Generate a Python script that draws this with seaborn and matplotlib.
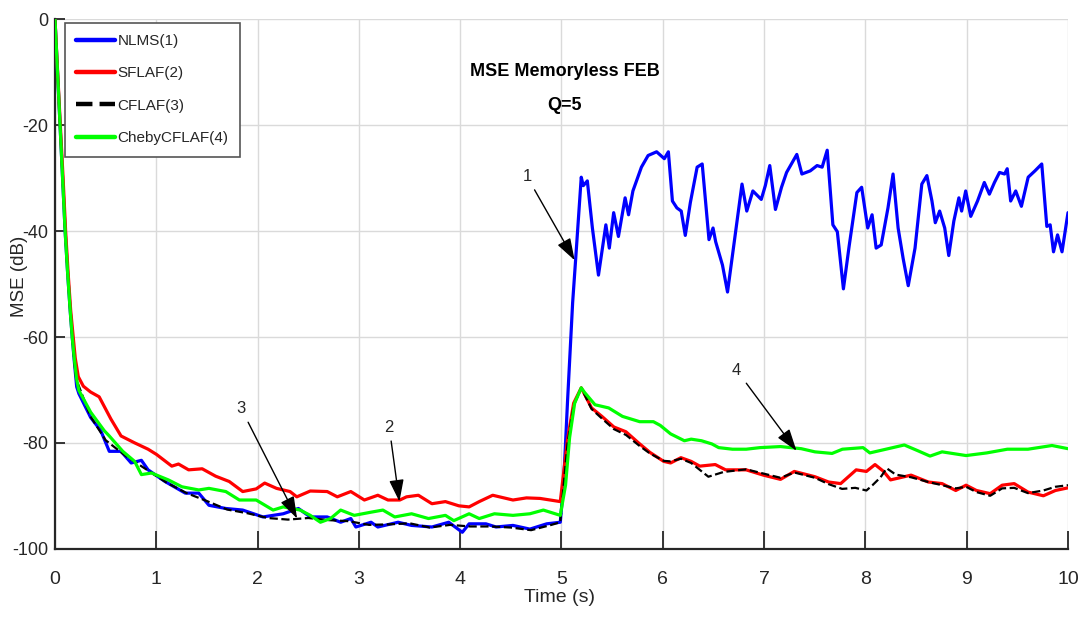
import matplotlib
matplotlib.use('Agg')
import matplotlib.pyplot as plt
import seaborn as sns
import pandas as pd
from matplotlib.lines import Line2D

# ---------------- data ----------------
series_labels = ['NLMS(1)', 'SFLAF(2)', 'CFLAF(3)', 'ChebyCFLAF(4)']
series_colors = ['#0000ff', '#ff0000', '#000000', '#00ff00']

nlms_t = [0.0, 0.025, 0.05, 0.075, 0.1, 0.125, 0.15, 0.17, 0.19, 0.214, 0.236, 0.352, 0.452, 0.536,
          0.652, 0.752, 0.853, 0.919, 1.086, 1.286, 1.419, 1.52, 1.686, 1.853, 2.053, 2.253,
          2.403, 2.52, 2.687, 2.82, 2.92, 2.97, 3.12, 3.187, 3.387, 3.52, 3.721, 3.887, 4.021,
          4.088, 4.254, 4.354, 4.521, 4.688, 4.854, 4.988, 5.02, 5.06, 5.11,
          5.138, 5.195, 5.215, 5.255, 5.305, 5.365, 5.438, 5.472, 5.515, 5.562, 5.628, 5.662,
          5.705, 5.789, 5.855, 5.939, 6.015, 6.055, 6.095, 6.139, 6.182, 6.222, 6.272, 6.339,
          6.389, 6.456, 6.496, 6.522, 6.589, 6.639, 6.706, 6.782, 6.829, 6.889, 6.972, 7.012,
          7.056, 7.112, 7.172, 7.222, 7.323, 7.373, 7.456, 7.523, 7.573, 7.623, 7.679, 7.723,
          7.783, 7.839, 7.916, 7.963, 8.023, 8.066, 8.106, 8.156, 8.223, 8.273, 8.323, 8.373,
          8.423, 8.49, 8.557, 8.607, 8.657, 8.69, 8.733, 8.783, 8.823, 8.873, 8.923, 8.95,
          8.99, 9.04, 9.107, 9.174, 9.224, 9.274, 9.324, 9.374, 9.4, 9.434, 9.484, 9.54,
          9.607, 9.674, 9.741, 9.791, 9.824, 9.857, 9.897, 9.941, 10.0]
nlms_db = [0, -10, -20, -30, -40, -48, -55, -60, -64.5, -69.4, -70.7, -75.2, -77.7, -81.6,
           -81.6, -83.8, -83.3, -85.1, -87.3, -89.5, -89.5, -91.8, -92.4, -92.7, -94.0, -93.4,
           -92.4, -94.0, -94.0, -95.0, -94.3, -95.9, -95.0, -95.9, -95.0, -95.6, -95.9, -95.0, -96.9,
           -95.3, -95.3, -95.9, -95.6, -96.3, -95.3, -95.0, -88, -72, -53.5,
           -45.8, -29.8, -31.4, -30.5, -39.4, -48.3, -38.8, -43.2, -36.5, -41.0, -33.7, -36.9,
           -32.4, -27.9, -25.7, -25.0, -26.3, -25.0, -34.3, -35.6, -36.2, -40.8, -34.6, -27.9,
           -27.3, -41.6, -39.4, -42.0, -46.4, -51.5, -42.0, -31.1, -36.2, -32.4, -34.0, -31.4,
           -27.6, -35.9, -31.7, -28.9, -25.5, -29.2, -28.6, -27.6, -27.9, -24.7, -38.8, -40.1,
           -50.9, -42.9, -32.7, -31.7, -39.4, -36.9, -43.2, -42.6, -35.6, -29.2, -39.4, -45.2,
           -50.3, -43.2, -31.1, -29.5, -34.3, -38.4, -36.2, -39.4, -44.6, -38.1, -33.7, -36.2,
           -32.4, -37.2, -34.3, -30.8, -33.0, -30.8, -28.9, -29.2, -28.2, -34.3, -32.4, -35.3,
           -29.8, -28.6, -27.3, -39.1, -38.8, -43.9, -40.7, -43.9, -36.5]

sflaf_t = [0.0, 0.025, 0.05, 0.08, 0.105, 0.13, 0.155, 0.18, 0.2, 0.23, 0.28, 0.352, 0.436,
           0.552, 0.652, 0.786, 0.919, 1.003, 1.153, 1.219, 1.319, 1.453, 1.586, 1.72, 1.853,
           1.986, 2.07, 2.187, 2.32, 2.387, 2.52, 2.687, 2.787, 2.92, 3.054, 3.187, 3.287,
           3.404, 3.47, 3.587, 3.721, 3.854, 3.987, 4.088, 4.188, 4.321, 4.521, 4.654, 4.788,
           4.988, 5.06, 5.12, 5.195, 5.297, 5.399, 5.517, 5.636, 5.772, 5.873, 6.009, 6.077,
           6.179, 6.28, 6.365, 6.518, 6.62, 6.823, 6.993, 7.162, 7.298, 7.502, 7.637, 7.756,
           7.909, 8.01, 8.095, 8.18, 8.248, 8.451, 8.621, 8.757, 8.892, 8.994, 9.096, 9.232,
           9.35, 9.469, 9.605, 9.757, 9.876, 10.0]
sflaf_db = [0, -9.5, -19, -30, -40, -48, -55, -60, -64, -67.5, -69.3, -70.4, -71.3,
            -75.5, -78.7, -80.0, -81.2, -82.2, -84.4, -84.0, -85.1, -84.9, -86.3, -87.3, -89.2,
            -88.7, -87.6, -88.6, -89.2, -90.2, -89.1, -89.2, -90.2, -89.2, -90.8, -89.9, -90.8,
            -90.8, -90.2, -89.9, -91.5, -91.1, -91.9, -92.1, -91.1, -89.9, -90.8, -90.4, -90.5,
            -91.1, -79.3, -72.5, -69.6, -73.4, -75.0, -77.0, -77.9, -80.2, -81.8, -83.5, -83.8,
            -82.8, -83.5, -84.4, -84.1, -85.1, -85.1, -86.1, -86.9, -85.4, -86.4, -87.4, -87.7,
            -85.1, -85.4, -84.1, -85.4, -87.0, -86.1, -87.4, -87.7, -89.0, -88.0, -89.0, -89.6,
            -88.0, -87.7, -89.3, -90.0, -89.0, -88.5]

cflaf_t = [0.0, 0.025, 0.05, 0.075, 0.1, 0.125, 0.15, 0.17, 0.19, 0.21, 0.35, 0.5, 0.7, 0.9,
           1.1, 1.3, 1.5, 1.7, 1.9, 2.1, 2.3, 2.5, 2.7, 2.9, 3.1, 3.3, 3.5, 3.7, 3.9, 4.1,
           4.3, 4.5, 4.7, 4.9, 4.988, 5.06, 5.12, 5.195, 5.297, 5.399, 5.517, 5.636, 5.772,
           5.873, 6.009, 6.077, 6.179, 6.28, 6.45, 6.6, 6.823, 6.993, 7.162, 7.298, 7.502,
           7.637, 7.77, 7.9, 8.01, 8.07, 8.15, 8.21, 8.3, 8.45, 8.621, 8.757, 8.892, 8.994,
           9.096, 9.232, 9.35, 9.469, 9.605, 9.757, 9.876, 10.0]
cflaf_db = [0, -10, -20, -30, -40, -48, -55, -60, -64.5, -68, -75, -79.5, -82.5, -85,
            -87.5, -89.5, -91, -92.6, -93.3, -94.2, -94.5, -94.2, -94.6, -94.8, -95.5, -95.4,
            -95.2, -96.0, -95.5, -95.8, -95.8, -96.0, -96.5, -95.5, -95.0, -80, -73, -69.6,
            -73.6, -75.4, -77.4, -78.5, -80.6, -82.0, -83.4, -83.5, -83.0, -83.8, -86.4, -85.5,
            -85.0, -85.8, -86.6, -85.6, -86.6, -87.8, -88.7, -88.5, -89.0, -88.0, -86.5, -84.8,
            -86.0, -86.5, -87.4, -88.0, -88.6, -88.3, -89.3, -90.0, -88.6, -88.5, -89.5, -89.0,
            -88.3, -88.0]

cheby_t = [0.0, 0.025, 0.05, 0.075, 0.1, 0.125, 0.15, 0.17, 0.19, 0.214, 0.236, 0.352, 0.486,
           0.536, 0.669, 0.786, 0.853, 0.953, 1.119, 1.253, 1.419, 1.52, 1.686, 1.82, 1.986,
           2.153, 2.253, 2.42, 2.52, 2.62, 2.72, 2.82, 2.954, 3.12, 3.237, 3.354, 3.52, 3.687,
           3.854, 3.937, 4.088, 4.188, 4.338, 4.521, 4.688, 4.821, 4.988, 5.04, 5.08, 5.13,
           5.195, 5.229, 5.331, 5.466, 5.602, 5.772, 5.907, 5.975, 6.077, 6.213, 6.28, 6.382,
           6.484, 6.552, 6.688, 6.823, 6.959, 7.162, 7.366, 7.502, 7.671, 7.773, 7.977, 8.044,
           8.18, 8.384, 8.519, 8.638, 8.757, 8.994, 9.198, 9.401, 9.605, 9.842, 10.0]
cheby_db = [0, -10, -20, -30, -40, -48, -55, -60, -64, -68, -70.1, -74.2, -77.7,
            -78.7, -81.6, -83.5, -86.0, -85.7, -87.0, -88.3, -88.9, -88.6, -89.2, -90.8, -90.8,
            -92.7, -92.1, -92.7, -93.7, -95.0, -94.3, -92.7, -93.7, -93.1, -92.7, -94.0, -93.4,
            -94.3, -93.7, -94.7, -93.4, -94.3, -93.4, -93.7, -93.4, -92.7, -93.7, -88, -79, -72.5,
            -69.6, -70.5, -72.8, -73.4, -75.0, -76.0, -76.0, -76.7, -78.3, -79.6, -79.3, -79.6,
            -80.2, -80.9, -81.2, -81.2, -80.9, -80.7, -81.1, -81.7, -82.0, -81.2, -80.9, -81.9,
            -81.3, -80.4, -81.5, -82.5, -81.7, -82.4, -81.9, -81.2, -81.2, -80.5, -81.1]

x_ticks = [0, 1, 2, 3, 4, 5, 6, 7, 8, 9, 10]
y_ticks = [-100, -80, -60, -40, -20, 0]

# annotation: label, text position (t, dB), arrow head (t, dB)
notes = [('1', (4.66, -29.7), (5.13, -45.5)),
         ('2', (3.30, -77.1), (3.40, -91.1)),
         ('3', (1.84, -73.6), (2.39, -94.3)),
         ('4', (6.73, -66.3), (7.32, -81.5))]

# ---------------- style ----------------
sns.set_theme(style='whitegrid')
plt.rcParams['font.family'] = ['Liberation Sans', 'DejaVu Sans']
plt.rcParams['axes.unicode_minus'] = False

fig = plt.figure(figsize=(10.79, 6.17), dpi=100)
fig.patch.set_facecolor('white')
ax = fig.add_axes([0.05097, 0.1107, 0.93883, 0.8577])
ax.set_facecolor('white')

frames = []
for lab, t, d in zip(series_labels,
                     [nlms_t, sflaf_t, cflaf_t, cheby_t],
                     [nlms_db, sflaf_db, cflaf_db, cheby_db]):
    frames.append(pd.DataFrame({'t': t, 'db': d, 'alg': lab}))
df = pd.concat(frames, ignore_index=True)

widths = {'NLMS(1)': 2.3, 'SFLAF(2)': 2.3, 'CFLAF(3)': 1.6, 'ChebyCFLAF(4)': 2.3}
for i, (lab, col) in enumerate(zip(series_labels, series_colors)):
    sub = df[df['alg'] == lab]
    sns.lineplot(data=sub, x='t', y='db', ax=ax, color=col, lw=widths[lab],
                 estimator=None, sort=False, legend=False,
                 linestyle='--' if lab == 'CFLAF(3)' else '-', zorder=3 + i)

ax.set_xlim(0, 10)
ax.set_ylim(-100, 0)
ax.set_xticks(x_ticks)
ax.set_yticks(y_ticks)
ax.set_xticklabels([str(v) for v in x_ticks])
ax.set_yticklabels([str(v) for v in y_ticks])
ax.grid(True, color='#dadada', lw=1.0)
for s in ['top', 'right']:
    ax.spines[s].set_visible(False)
for s in ['left', 'bottom']:
    ax.spines[s].set_color('#262626')
    ax.spines[s].set_linewidth(1.6)
ax.tick_params(axis='y', direction='in', length=7.5, width=1.3, color='#262626',
               labelsize=13, pad=5, labelcolor='#262626', left=True)
ax.tick_params(axis='x', direction='in', length=13, width=1.3, color='#262626',
               labelsize=14, pad=16, labelcolor='#262626', bottom=True)

ax.set_xlabel('Time (s)', fontsize=14, color='#262626')
ax.xaxis.set_label_coords(0.4985, -0.077)
ax.set_ylabel('MSE (dB)', fontsize=13.5, color='#262626')
ax.yaxis.set_label_coords(-0.027, 0.515)

ax.text(5.03, -9.9, 'MSE Memoryless FEB', ha='center', va='center', fontsize=13,
        fontweight='bold', color='black', zorder=10)
ax.text(5.03, -16.3, 'Q=5', ha='center', va='center', fontsize=13,
        fontweight='bold', color='black', zorder=10)

for lab, txt_pos, head in notes:
    ax.annotate(lab, xy=head, xytext=txt_pos, ha='center', va='center', fontsize=12,
                color='#262626', zorder=12,
                arrowprops=dict(arrowstyle='-|>,head_length=0.9,head_width=0.3',
                                color='black', lw=1.0, shrinkA=2, shrinkB=0,
                                mutation_scale=15))

handles = [Line2D([0], [0], color=c, lw=3.2, linestyle='--' if l == 'CFLAF(3)' else '-')
           for l, c in zip(series_labels, series_colors)]
leg = ax.legend(handles, series_labels, loc='upper left', bbox_to_anchor=(0.0099, 0.994),
                borderaxespad=0, fontsize=11, frameon=True, fancybox=False,
                framealpha=1, edgecolor='#555555', handlelength=2.55, handletextpad=0.15,
                labelspacing=1.2, borderpad=0.75)
leg.get_frame().set_linewidth(1.2)
leg.set_zorder(20)

fig.savefig('out.png', dpi=100, facecolor='white')
